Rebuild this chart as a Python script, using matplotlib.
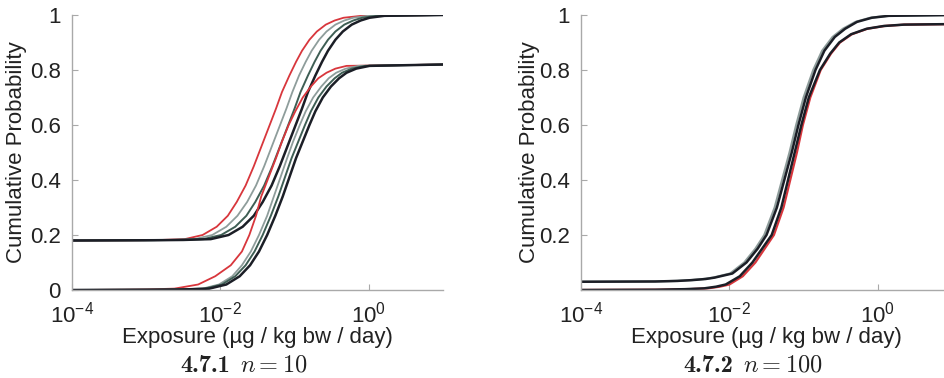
import matplotlib
matplotlib.use("Agg")
import matplotlib.pyplot as plt
import numpy as np

plt.rcParams['font.family'] = ['Liberation Sans', 'DejaVu Sans']
plt.rcParams['mathtext.fontset'] = 'custom'
plt.rcParams['mathtext.rm'] = 'Liberation Sans'
plt.rcParams['mathtext.it'] = 'Liberation Sans:italic'
plt.rcParams['mathtext.bf'] = 'Liberation Sans:bold'

# ---------------- data (log10 exposure positions read per probability level) ----
# Panel 4.7.1, upper group (plateau 0.18 -> 1)
y_up = [0.18, 0.181, 0.182, 0.185, 0.20, 0.23, 0.27, 0.32, 0.38, 0.45, 0.52, 0.59, 0.66, 0.72,
        0.78, 0.83, 0.87, 0.91, 0.94, 0.965, 0.98, 0.99, 0.997, 1.0]
up_red = [-4, -3.1, -2.8, -2.48, -2.24, -2.05, -1.90, -1.78, -1.66, -1.55, -1.45, -1.35, -1.25, -1.17,
          -1.07, -0.98, -0.90, -0.80, -0.70, -0.58, -0.46, -0.34, -0.10, 1.0]
up_gray = [-4, -3.0, -2.7, -2.35, -2.11, -1.92, -1.77, -1.64, -1.52, -1.41, -1.31, -1.21, -1.11, -1.03,
           -0.94, -0.85, -0.77, -0.67, -0.57, -0.45, -0.33, -0.21, -0.01, 1.0]
up_green = [-4, -2.95, -2.6, -2.23, -1.99, -1.80, -1.65, -1.53, -1.41, -1.30, -1.20, -1.10, -1.00, -0.92,
            -0.82, -0.73, -0.65, -0.55, -0.45, -0.33, -0.21, -0.09, 0.11, 1.0]
up_black = [-4, -2.9, -2.5, -2.13, -1.89, -1.70, -1.55, -1.43, -1.31, -1.20, -1.10, -1.00, -0.90, -0.82,
            -0.72, -0.63, -0.55, -0.45, -0.35, -0.23, -0.11, 0.01, 0.21, 1.0]

# Panel 4.7.1, lower group (0 -> 0.82)
y_low = [0.0, 0.001, 0.002, 0.005, 0.02, 0.05, 0.09, 0.14, 0.20, 0.27, 0.34, 0.41, 0.48, 0.54,
         0.60, 0.65, 0.70, 0.74, 0.77, 0.79, 0.805, 0.815, 0.82]
low_red = [-4, -3.3, -3.0, -2.62, -2.30, -2.07, -1.86, -1.71, -1.61, -1.52, -1.45, -1.35, -1.25, -1.17,
           -1.08, -0.99, -0.89, -0.78, -0.68, -0.57, -0.45, -0.30, 1.0]
low_gray = [-4, -3.0, -2.65, -2.24, -2.02, -1.84, -1.71, -1.59, -1.48, -1.37, -1.28, -1.19, -1.10, -1.02,
            -0.93, -0.85, -0.75, -0.64, -0.54, -0.44, -0.31, -0.14, 1.0]
low_green = [-4, -2.95, -2.6, -2.21, -1.98, -1.80, -1.66, -1.54, -1.43, -1.32, -1.22, -1.13, -1.04, -0.95,
             -0.86, -0.78, -0.68, -0.57, -0.46, -0.36, -0.23, -0.05, 1.0]
low_black = [-4, -2.9, -2.5, -2.15, -1.92, -1.74, -1.60, -1.48, -1.37, -1.26, -1.16, -1.07, -0.98, -0.89,
             -0.80, -0.72, -0.62, -0.51, -0.40, -0.30, -0.17, 0.01, 1.0]

# Panel 4.7.2, group A (0.03 -> 1)
y_a = [0.03, 0.031, 0.033, 0.036, 0.04, 0.045, 0.06, 0.10, 0.15, 0.20, 0.30, 0.40, 0.50, 0.60,
       0.70, 0.80, 0.87, 0.92, 0.95, 0.975, 0.99, 0.997, 1.0]
a_gray = [-4, -3.02, -2.72, -2.52, -2.35, -2.22, -1.99, -1.80, -1.65, -1.53, -1.39, -1.29, -1.19, -1.10,
          -1.00, -0.87, -0.75, -0.61, -0.47, -0.30, -0.10, 0.13, 1.0]
a_black = [-4, -3.0, -2.7, -2.5, -2.32, -2.20, -1.96, -1.77, -1.62, -1.50, -1.36, -1.26, -1.16, -1.07,
           -0.97, -0.84, -0.72, -0.58, -0.44, -0.28, -0.08, 0.15, 1.0]

# Panel 4.7.2, group B (0 -> 0.967)
y_b = [0.0, 0.001, 0.003, 0.006, 0.012, 0.02, 0.05, 0.10, 0.20, 0.30, 0.40, 0.50, 0.60, 0.70,
       0.80, 0.86, 0.90, 0.93, 0.95, 0.96, 0.965, 0.967]
b_red = [-4, -2.95, -2.55, -2.29, -2.13, -2.00, -1.82, -1.65, -1.40, -1.27, -1.18, -1.09, -1.01, -0.91,
         -0.77, -0.63, -0.51, -0.35, -0.14, 0.09, 0.36, 1.0]
b_black = [-4, -3.0, -2.6, -2.34, -2.18, -2.05, -1.86, -1.69, -1.43, -1.30, -1.21, -1.12, -1.03, -0.93,
           -0.78, -0.64, -0.52, -0.36, -0.15, 0.08, 0.35, 1.0]

xtick_vals = [1e-4, 1e-2, 1e0]
xtick_labels = [r'$\mathregular{10^{-4}}$', r'$\mathregular{10^{-2}}$', r'$\mathregular{10^{0}}$']
yticks_left = [0, 0.2, 0.4, 0.6, 0.8, 1]
yticks_right = [0.2, 0.4, 0.6, 0.8, 1]
xlabel = 'Exposure (µg / kg bw / day)'
ylabel = 'Cumulative Probability'
cap_nums = ['4.7.1', '4.7.2']
cap_ns = [r'$n = 10$', r'$n = 100$']

RED = '#d8363c'
GRAY = '#8e9d9b'
GREEN = '#3e5e54'
BLACK = '#1b1e26'
AXC = '#a9a9a9'
TXT = '#222222'

fig = plt.figure(figsize=(9.44, 3.78), dpi=100)
ax1 = fig.add_axes([72 / 944, 88 / 378, 371 / 944, 275 / 378])
ax2 = fig.add_axes([581 / 944, 88 / 378, 371 / 944, 275 / 378])


def draw(ax, lx, y, color, lw):
    ax.plot(10 ** np.asarray(lx, float), y, color=color, lw=lw, solid_capstyle='round',
            solid_joinstyle='round')


for lx, c, w in [(up_red, RED, 1.3), (up_gray, GRAY, 1.3), (up_green, GREEN, 1.4), (up_black, BLACK, 1.8)]:
    draw(ax1, lx, y_up, c, w)
for lx, c, w in [(low_red, RED, 1.3), (low_gray, GRAY, 1.3), (low_green, GREEN, 1.4), (low_black, BLACK, 1.8)]:
    draw(ax1, lx, y_low, c, w)

draw(ax2, b_red, y_b, RED, 1.6)
draw(ax2, a_gray, y_a, GRAY, 1.6)
draw(ax2, b_black, y_b, BLACK, 1.8)
draw(ax2, a_black, y_a, BLACK, 1.8)

# caption split positions (pixels): end of bold number, start of "n = ..."
cap_pos = [(230, 240), (733, 743)]

for i, (ax, yt) in enumerate([(ax1, yticks_left), (ax2, yticks_right)]):
    ax.set_xscale('log')
    ax.set_xlim(1e-4, 1e1)
    ax.set_ylim(0, 1)
    for s in ['top', 'right']:
        ax.spines[s].set_visible(False)
    for s in ['left', 'bottom']:
        ax.spines[s].set_color(AXC)
        ax.spines[s].set_linewidth(1.0)
    ax.set_xticks(xtick_vals)
    ax.set_xticklabels(xtick_labels)
    ax.xaxis.set_minor_locator(matplotlib.ticker.NullLocator())
    ax.set_yticks(yt)
    ax.set_yticklabels([('%g' % v) for v in yt])
    ax.tick_params(direction='in', color=AXC, length=4, labelsize=16, labelcolor=TXT)
    ax.tick_params(axis='x', pad=8)
    ax.tick_params(axis='y', pad=8)
    ax.set_xlabel(xlabel, fontsize=16, color=TXT)
    ax.xaxis.set_label_coords(0.5, -0.135)
    ax.set_ylabel(ylabel, fontsize=16, color=TXT)
    xa, xb = cap_pos[i]
    yb = 1 - 372 / 378
    fig.text(xa / 944, yb, cap_nums[i], ha='right', va='baseline', fontsize=17.5,
             family='cmb10', color=TXT)
    fig.text(xb / 944, yb, cap_ns[i], ha='left', va='baseline', fontsize=17.5,
             math_fontfamily='cm', color=TXT)

ax1.yaxis.set_label_coords(-0.121, 0.5)
ax2.yaxis.set_label_coords(-0.110, 0.5)

fig.savefig('out.png', dpi=100)
